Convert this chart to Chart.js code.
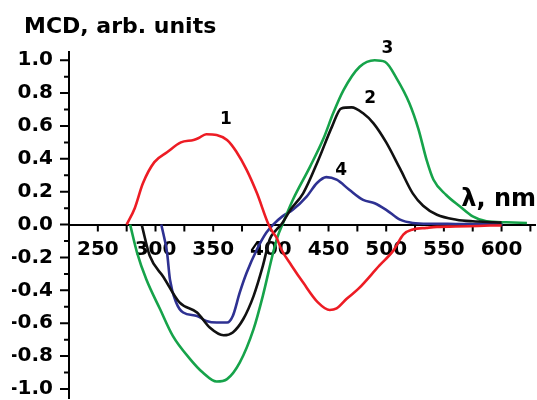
<!DOCTYPE html>
<html>
<head>
<meta charset="utf-8">
<script src="https://cdn.jsdelivr.net/npm/chart.js@4.4.1/dist/chart.umd.min.js"></script>
<style>
  html, body { margin: 0; padding: 0; background: #fff; }
  #wrap { width: 537px; height: 400px; }
</style>
</head>
<body>
<div id="wrap"><canvas id="mcdChart"></canvas></div>
<script>
// curve 1 (red)
const wl1  = [275, 282, 289, 299, 310, 322, 333, 337, 344, 353, 362, 370, 379, 388, 398, 402, 405, 409, 418, 428, 441, 451, 457, 466, 476, 494, 506, 515, 523, 535, 544, 560, 572, 590, 600];
const mcd1 = [0, 0.10, 0.25, 0.38, 0.44, 0.50, 0.515, 0.525, 0.55, 0.545, 0.515, 0.445, 0.333, 0.19, 0.0, -0.05, -0.08, -0.15, -0.25, -0.353, -0.475, -0.52, -0.51, -0.45, -0.39, -0.25, -0.16, -0.06, -0.03, -0.02, -0.014, -0.012, -0.01, -0.006, -0.005];

// curve 2 (black)
const wl2  = [288, 295, 307, 321, 336, 347, 359, 367, 376, 385, 393, 399, 405, 409, 417, 428, 441, 453, 461, 470, 480, 489, 500, 512, 523, 532, 544, 561, 575, 593, 600];
const mcd2 = [0, -0.19, -0.32, -0.475, -0.535, -0.626, -0.673, -0.656, -0.576, -0.435, -0.253, -0.09, -0.03, 0, 0.09, 0.19, 0.39, 0.596, 0.707, 0.713, 0.677, 0.616, 0.50, 0.34, 0.19, 0.115, 0.06, 0.03, 0.02, 0.014, 0.012];

// curve 3 (green)
const wl3  = [278, 284, 292, 304, 315, 330, 341, 353, 362, 373, 385, 393, 402, 406, 410, 419, 434, 446, 454, 463, 477, 490, 499, 509, 520, 528, 535, 541, 552, 564, 575, 587, 604, 622];
const mcd3 = [0, -0.17, -0.333, -0.515, -0.677, -0.818, -0.9, -0.955, -0.94, -0.84, -0.636, -0.435, -0.17, -0.07, 0, 0.15, 0.353, 0.53, 0.677, 0.818, 0.96, 1.0, 0.99, 0.89, 0.74, 0.58, 0.394, 0.273, 0.18, 0.11, 0.05, 0.02, 0.014, 0.01];

// curve 4 (blue)
const wl4  = [305, 310, 312.5, 318, 324, 336, 344, 353, 362, 367, 373, 379, 388, 396, 402, 410, 419, 431, 440, 448, 457, 468, 480, 490, 500, 512, 523, 540, 560, 580, 601];
const mcd4 = [0, -0.17, -0.333, -0.475, -0.535, -0.556, -0.586, -0.596, -0.596, -0.556, -0.414, -0.293, -0.15, -0.05, 0, 0.05, 0.09, 0.17, 0.253, 0.289, 0.273, 0.212, 0.15, 0.13, 0.09, 0.03, 0.01, 0.005, 0.004, 0.003, 0.003];

const xTicks = [250, 300, 350, 400, 450, 500, 550, 600];
const yTicks = [-1.0, -0.8, -0.6, -0.4, -0.2, 0.0, 0.2, 0.4, 0.6, 0.8, 1.0];

// curve numbers, anchored in data units
const curveNames = ['1', '2', '3', '4'];
const nameWl  = [361, 486, 501, 461];
const nameVal = [0.636, 0.764, 1.073, 0.327];

const FONT = '"DejaVu Sans", sans-serif';

function toPoints(xs, ys) {
    return xs.map((v, i) => ({ x: v, y: ys[i] }));
}

function makeSet(xs, ys, color) {
    return {
        data: toPoints(xs, ys),
        borderColor: color,
        borderWidth: 2.6,
        pointRadius: 0,
        fill: false,
        cubicInterpolationMode: 'monotone'
    };
}

// ticks and text that Chart.js can't place the way the figure wants
const axisDecor = {
    id: 'axisDecor',
    beforeDatasetsDraw(chart) {
        const { ctx, scales: { x, y } } = chart;
        const y0 = y.getPixelForValue(0);
        ctx.save();
        ctx.strokeStyle = '#000';
        ctx.lineWidth = 2;
        ctx.beginPath();
        yTicks.forEach(v => {
            const p = y.getPixelForValue(v);
            ctx.moveTo(x.left - 9, p);
            ctx.lineTo(x.left, p);
        });
        for (let i = 0; i < yTicks.length - 1; i++) {
            const p = y.getPixelForValue((yTicks[i] + yTicks[i + 1]) / 2);
            ctx.moveTo(x.left - 5, p);
            ctx.lineTo(x.left, p);
        }
        const half = (xTicks[1] - xTicks[0]) / 2;
        for (let v = xTicks[0] - half; v <= x.max; v += half) {
            const p = x.getPixelForValue(v);
            ctx.moveTo(p, y0);
            ctx.lineTo(p, y0 + 7);
        }
        ctx.stroke();
        ctx.restore();
    },
    afterDraw(chart) {
        const { ctx, scales: { x, y } } = chart;
        ctx.save();
        ctx.fillStyle = '#000';
        ctx.textBaseline = 'alphabetic';

        ctx.font = 'bold 22px ' + FONT;
        ctx.textAlign = 'left';
        ctx.fillText('MCD, arb. units', 24, 33);

        ctx.font = 'bold 24px ' + FONT;
        ctx.textAlign = 'right';
        ctx.fillText('\u03bb, nm', 536, 206);

        ctx.font = 'bold 17px ' + FONT;
        ctx.textAlign = 'center';
        ctx.textBaseline = 'middle';
        curveNames.forEach((name, i) => {
            ctx.fillText(name, x.getPixelForValue(nameWl[i]), y.getPixelForValue(nameVal[i]));
        });
        ctx.restore();
    }
};

new Chart(document.getElementById('mcdChart'), {
    type: 'line',
    data: {
        datasets: [
            makeSet(wl1, mcd1, '#ed1c24'),
            makeSet(wl2, mcd2, '#111111'),
            makeSet(wl3, mcd3, '#16a34a'),
            makeSet(wl4, mcd4, '#2e3192')
        ]
    },
    options: {
        responsive: true,
        maintainAspectRatio: false,
        animation: false,
        devicePixelRatio: 1,
        layout: { padding: { left: 12, right: 2, top: 52, bottom: 2 } },
        plugins: {
            legend: { display: false },
            tooltip: { enabled: false }
        },
        scales: {
            x: {
                type: 'linear',
                min: 225,
                max: 629,
                position: { y: 0 },
                afterBuildTicks: s => { s.ticks = xTicks.map(v => ({ value: v })); },
                afterFit: s => { s.height = 0; s.paddingLeft = 0; s.paddingRight = 0; },
                grid: { display: false, drawTicks: false },
                border: { display: true, color: '#000', width: 2 },
                ticks: {
                    color: '#000',
                    padding: 13,
                    maxRotation: 0,
                    autoSkip: false,
                    font: { family: FONT, weight: 'bold', size: 20 }
                }
            },
            y: {
                type: 'linear',
                min: -1.055,
                max: 1.05,
                afterBuildTicks: s => { s.ticks = yTicks.map(v => ({ value: v })); },
                afterFit: s => { s.width = 57; s.paddingTop = 0; s.paddingBottom = 0; },
                grid: { display: false, drawTicks: false },
                border: { display: true, color: '#000', width: 2 },
                ticks: {
                    color: '#000',
                    padding: 16,
                    autoSkip: false,
                    callback: v => v.toFixed(1),
                    font: { family: FONT, weight: 'bold', size: 20 }
                }
            }
        }
    },
    plugins: [axisDecor]
});
</script>
</body>
</html>
